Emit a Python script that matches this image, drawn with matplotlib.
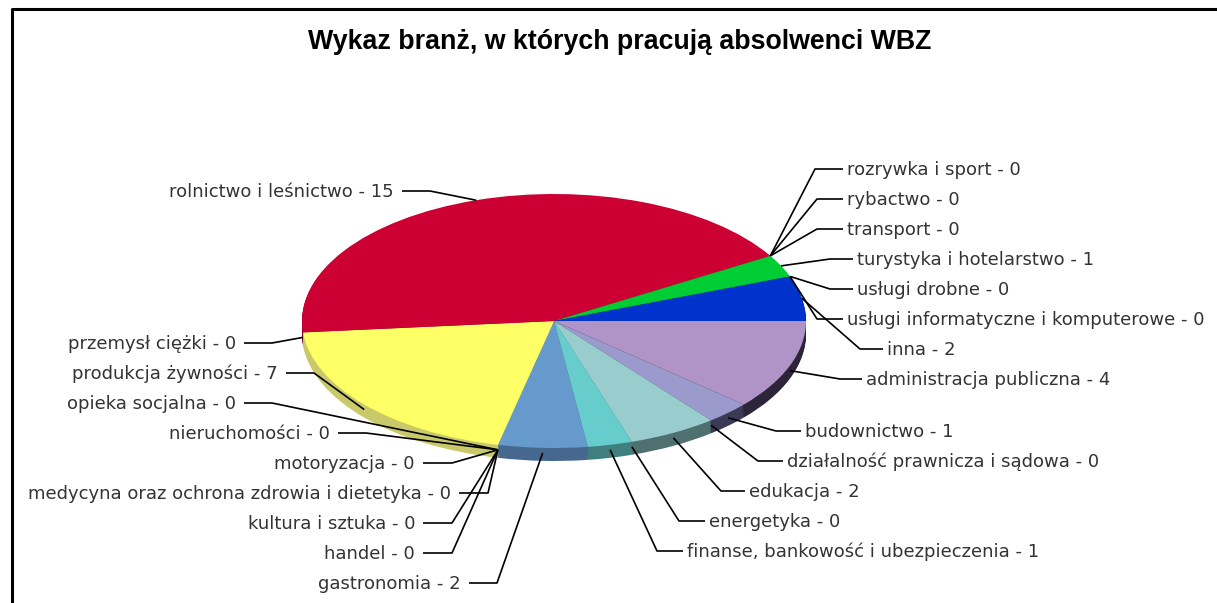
import matplotlib
matplotlib.use("Agg")
import matplotlib.pyplot as plt
import math

names = ["administracja publiczna", "budownictwo", "działalność prawnicza i sądowa", "edukacja",
         "energetyka", "finanse, bankowość i ubezpieczenia", "gastronomia", "handel",
         "kultura i sztuka", "medycyna oraz ochrona zdrowia i dietetyka", "motoryzacja",
         "nieruchomości", "opieka socjalna", "produkcja żywności", "przemysł ciężki",
         "rolnictwo i leśnictwo", "rozrywka i sport", "rybactwo", "transport",
         "turystyka i hotelarstwo", "usługi drobne", "usługi informatyczne i komputerowe", "inna"]
values = [4, 1, 0, 2, 0, 1, 2, 0, 0, 0, 0, 0, 0, 7, 0, 15, 0, 0, 0, 1, 0, 0, 2]
top_colors = ["#b094c8", "#9a9acc", "#9a9acc", "#99cccc", "#66cccc", "#66cccc", "#6699cc", "#6699cc",
              "#6699cc", "#6699cc", "#6699cc", "#6699cc", "#6699cc", "#ffff66", "#ffff66", "#cc0033",
              "#cc0033", "#cc0033", "#cc0033", "#00cc33", "#0033cc", "#0033cc", "#0033cc"]
side_colors = ["#2c2438", "#3a3a55", "#3a3a55", "#4f7070", "#3f7f7f", "#3f7f7f", "#46688f", "#46688f",
               "#46688f", "#46688f", "#46688f", "#46688f", "#46688f", "#c9c96a", "#c9c96a", "#7a0020",
               "#7a0020", "#7a0020", "#7a0020", "#007a20", "#00207a", "#00207a", "#00207a"]

# label layout in pixels: text x, text y, bend x
label_x = [866, 805, 787, 749, 709, 687, 461, 415, 415, 451, 415, 330, 236, 278, 236, 394,
           847, 847, 847, 857, 857, 847, 887]
label_y = [379, 431, 461, 491, 521, 551, 583, 553, 523, 493, 463, 433, 403, 373, 343, 191,
           169, 199, 229, 259, 289, 319, 349]
bend_x = [840, 776, 758, 721, 679, 657, 497, 452, 452, 488, 452, 366, 272, 314, 272, 430,
          815, 817, 817, 830, 830, 817, 860]

W, H = 1217, 603
cx, cy, rx, ry, depth = 554, 321, 252, 127, 13


def px(x, y):
    return (x - cx) / rx, (cy - y) / ry


fig = plt.figure(figsize=(W / 100, H / 100), dpi=100)
ax = fig.add_axes([0, 0, 1, 1])

# side of the pie, then the top
for d in range(depth, 0, -1):
    ax.pie(values, colors=side_colors, startangle=0, counterclock=False, center=(0, -d / ry),
           wedgeprops={'linewidth': 0})
ax.pie(values, colors=top_colors, startangle=0, counterclock=False, wedgeprops={'linewidth': 0})

ax.set_aspect('auto')
ax.set_xlim(-cx / rx, (W - cx) / rx)
ax.set_ylim((cy - H) / ry, cy / ry)
ax.axis('off')

# leader lines and labels
total = sum(values)
cum = 0
for i in range(len(names)):
    mid = (cum + values[i] / 2) / total * 2 * math.pi
    cum += values[i]
    ax_x = cx + rx * math.cos(mid)
    ax_y = cy + ry * math.sin(mid)
    if math.sin(mid) > 0:
        ax_y += 5
    left = label_x[i] < cx and i > 5 and i < 16
    if left:
        stub = label_x[i] + 8
        ha = 'right'
    else:
        stub = label_x[i] - 4
        ha = 'left'
    p = [px(ax_x, ax_y), px(bend_x[i], label_y[i]), px(stub, label_y[i])]
    ax.plot([q[0] for q in p], [q[1] for q in p], color='black', lw=1.2, solid_capstyle='butt')
    tx, ty = px(label_x[i], label_y[i] + 1)
    ax.text(tx, ty, f"{names[i]} - {values[i]}", ha=ha, va='center', fontsize=13,
            family='DejaVu Sans', color='#333333')

tx, ty = px(620, 42)
ax.text(tx, ty, "Wykaz branż, w których pracują absolwenci WBZ", ha='center', va='center',
        fontsize=19.3, fontweight='bold', family='Liberation Sans', color='black')

# outer frame, open on the right
fx = [12, 12, W]
fy = [H, 9, 9]
ax.plot([px(a, b)[0] for a, b in zip(fx, fy)], [px(a, b)[1] for a, b in zip(fx, fy)],
        color='black', lw=2.2, solid_capstyle='butt')

fig.savefig("out.png", dpi=100)
plt.close()
